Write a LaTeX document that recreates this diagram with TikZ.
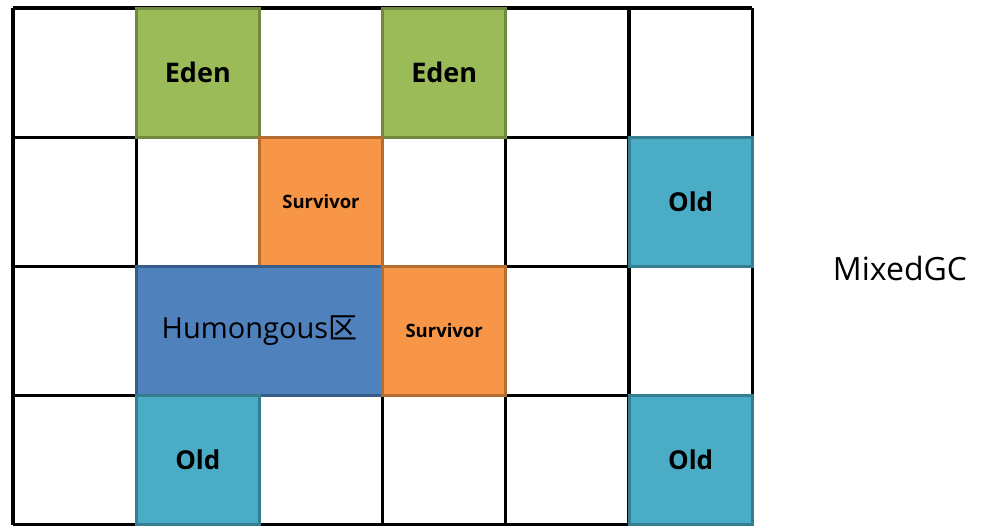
\documentclass[tikz,border=0pt]{standalone}
\usepackage{fontspec}
\setmainfont{Open Sans}
\newfontfamily\cjk{Noto Sans CJK SC}
\definecolor{edengreen}{HTML}{9BBB59}
\definecolor{edenline}{HTML}{71893F}
\definecolor{survorange}{HTML}{F79646}
\definecolor{survline}{HTML}{B66D31}
\definecolor{humblue}{HTML}{4F81BD}
\definecolor{humline}{HTML}{385D8A}
\definecolor{oldteal}{HTML}{4BACC6}
\definecolor{oldline}{HTML}{357D91}
\tikzset{
    region/.style={draw, line width=3pt, minimum width=123.2pt, minimum height=129.2pt,
        inner sep=0pt, text=black},
    eden/.style={region, fill=edengreen, draw=edenline, font=\bfseries\fontsize{27}{27}\selectfont},
    survivor/.style={region, fill=survorange, draw=survline, font=\bfseries\fontsize{18.5}{18.5}\selectfont},
    old/.style={region, fill=oldteal, draw=oldline, font=\bfseries\fontsize{26}{26}\selectfont},
    humongous/.style={region, fill=humblue, draw=humline, minimum width=246.4pt,
        font=\fontsize{29}{29}\selectfont}
}
\begin{document}
\begin{tikzpicture}[x=1pt, y=-1pt]
    \def\W{123.2} % cell width
    \def\H{129.2} % cell height
    \def\X{13}    % left edge
    \def\Y{8}     % top edge
    \useasboundingbox (0,0) rectangle (989,531);

    % grid
    \foreach \i in {0,...,6}
        \draw[line width=3.2pt] (\X+\W*\i, \Y) -- (\X+\W*\i, \Y+4*\H);
    \foreach \j in {0,...,4}
        \draw[line width=3.2pt] (\X, \Y+\H*\j) -- (\X+6*\W, \Y+\H*\j);

    % regions
    \node[eden] (eden1) at (\X+1.5*\W, \Y+.5*\H) {Eden};
    \node[eden] (eden2) at (\X+3.5*\W, \Y+.5*\H) {Eden};
    \node[survivor] (surv1) at (\X+2.5*\W, \Y+1.5*\H) {Survivor};
    \node[old] (old1) at (\X+5.5*\W, \Y+1.5*\H) {Old};
    \node[humongous] (hum) at (\X+2*\W, \Y+2.5*\H) {Humongous{\cjk 区}};
    \node[survivor] (surv2) at (\X+3.5*\W, \Y+2.5*\H) {Survivor};
    \node[old] (old2) at (\X+1.5*\W, \Y+3.5*\H) {Old};
    \node[old] (old3) at (\X+5.5*\W, \Y+3.5*\H) {Old};

    \node[font=\fontsize{32}{32}\selectfont] (mixed) at (900, 268) {MixedGC};
\end{tikzpicture}
\end{document}
